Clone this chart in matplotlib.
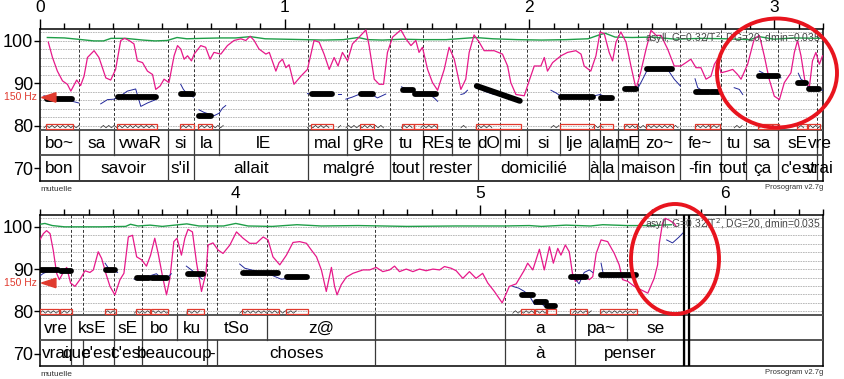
import matplotlib.pyplot as plt
from matplotlib.patches import Rectangle, Ellipse, Polygon
import numpy as np

plt.rcParams['font.family'] = ['Liberation Sans', 'DejaVu Sans']

# ---------------- painel de cima (0 - 3.2 s) ----------------
sil1 = ['bo~', 'sa', 'vwaR', 'si', 'la', 'lE', 'mal', 'gRe', 'tu', 'REs', 'te', 'dO',
        'mi', 'si', 'lje', 'a', 'la', 'mE', 'zo~', 'fe~', 'tu', 'sa', 'sE', 'vre']
sil1_lim = [0, 0.158, 0.301, 0.522, 0.628, 0.731, 1.095, 1.254, 1.43, 1.565, 1.684, 1.79,
            1.879, 1.99, 2.125, 2.243, 2.288, 2.362, 2.443, 2.615, 2.783, 2.885, 3.016,
            3.175, 3.2]
pal1 = ['bon', 'savoir', "s'il", 'allait', 'malgré', 'tout', 'rester', 'domicilié', 'à',
        'la', 'maison', '-fin', 'tout', 'ça', "c'est", 'vrai']
pal1_lim = [0, 0.158, 0.522, 0.628, 1.095, 1.43, 1.565, 1.79, 2.243, 2.288, 2.362, 2.615,
            2.783, 2.885, 3.016, 3.175, 3.2]

int1_t = [0.034, 0.051, 0.071, 0.092, 0.112, 0.126, 0.137, 0.15, 0.166, 0.18, 0.194, 0.221,
          0.241, 0.269, 0.289, 0.309, 0.33, 0.346, 0.364, 0.384, 0.398, 0.419, 0.439, 0.46,
          0.473, 0.491, 0.507, 0.527, 0.548, 0.562, 0.575, 0.589, 0.603, 0.619, 0.63, 0.657,
          0.677, 0.695, 0.711, 0.739, 0.766, 0.793, 0.821, 0.841, 0.859, 0.875, 0.895, 0.923,
          0.937, 0.964, 0.977, 0.991, 1.005, 1.018, 1.038, 1.066, 1.093, 1.12, 1.141, 1.161,
          1.182, 1.202, 1.218, 1.236, 1.257, 1.277, 1.311, 1.332, 1.345, 1.366, 1.386, 1.404,
          1.42, 1.441, 1.475, 1.495, 1.516, 1.536, 1.549, 1.563, 1.584, 1.604, 1.625, 1.652,
          1.672, 1.693, 1.72, 1.74, 1.754, 1.774, 1.795, 1.815, 1.856, 1.89, 1.911, 1.924,
          1.945, 1.979, 1.999, 2.02, 2.047, 2.061, 2.074, 2.095, 2.129, 2.156, 2.19, 2.211,
          2.224, 2.251, 2.272, 2.289, 2.306, 2.326, 2.34, 2.354, 2.374, 2.395, 2.415, 2.436,
          2.456, 2.477, 2.497, 2.518, 2.538, 2.565, 2.592, 2.619, 2.64, 2.66, 2.681, 2.701,
          2.722, 2.742, 2.756, 2.769, 2.783, 2.81, 2.831, 2.851, 2.865, 2.892, 2.919, 2.94,
          2.96, 2.98, 3.001, 3.022, 3.042, 3.069, 3.083, 3.096, 3.11, 3.126, 3.144, 3.157,
          3.171, 3.185, 3.198]
int1_st = [99.7, 96.1, 92.9, 90.6, 89.8, 88.2, 89.4, 90.8, 89.5, 91.7, 96.1, 97.7,
           96.1, 91.3, 90.8, 93.3, 100.1, 100.6, 100.1, 99.3, 95.3, 94.9, 92.9, 92.1,
           88.6, 89.4, 91.0, 90.2, 96.5, 98.9, 98.1, 95.7, 96.5, 95.3, 96.9, 98.9,
           98.5, 95.7, 97.3, 96.9, 98.9, 100.1, 100.5, 100.1, 101.1, 100.1, 98.1, 96.9,
           97.3, 92.9, 94.9, 95.7, 93.7, 94.4, 89.8, 91.7, 93.3, 100.1, 99.7, 96.9,
           93.3, 96.1, 94.1, 97.3, 95.3, 99.3, 101.3, 102.6, 98.9, 91.0, 89.8, 89.8,
           97.3, 100.9, 102.6, 100.5, 98.9, 100.1, 97.3, 98.5, 93.3, 90.2, 88.4, 93.3,
           98.5, 95.7, 88.6, 91.0, 97.3, 101.4, 99.7, 97.7, 97.7, 96.9, 94.1, 90.2,
           87.4, 87.1, 90.6, 94.1, 94.1, 96.1, 92.9, 94.9, 96.5, 97.3, 97.7, 96.9,
           94.1, 92.9, 96.5, 102.1, 101.7, 97.3, 95.3, 99.7, 102.1, 99.7, 94.1, 88.7,
           92.9, 98.1, 102.5, 101.3, 101.3, 98.1, 94.1, 94.1, 94.9, 95.7, 93.7, 93.7,
           91.0, 91.7, 94.5, 95.7, 92.5, 92.9, 93.3, 92.1, 91.0, 94.5, 100.5, 101.3,
           96.5, 91.0, 87.0, 86.2, 90.2, 92.5, 97.3, 100.1, 96.5, 90.6, 89.0, 95.3,
           97.3, 94.5, 96.5]

verde1_t = [0.03, 0.1, 0.17, 0.22, 0.26, 0.29, 0.35, 0.42, 0.47, 0.52, 0.56, 0.6, 0.66,
            0.74, 0.8, 0.86, 0.92, 1.0, 1.08, 1.16, 1.24, 1.3, 1.34, 1.4, 1.48, 1.56, 1.66,
            1.78, 1.85, 1.95, 2.05, 2.15, 2.24, 2.29, 2.31, 2.35, 2.42, 2.5, 2.6, 2.7, 2.8,
            2.9, 2.94, 3.0, 3.08, 3.198]
verde1_st = [100.8, 100.7, 100.3, 100.0, 100.0, 100.6, 100.6, 100.2, 100.0, 100.1, 100.8,
             100.5, 100.6, 100.7, 100.7, 101.0, 100.5, 100.4, 100.3, 100.2, 100.3, 100.8,
             100.3, 100.2, 100.4, 100.3, 100.3, 100.8, 100.5, 100.3, 100.2, 100.3, 100.5,
             101.5, 101.8, 100.9, 100.8, 100.9, 100.4, 100.6, 100.5, 100.3, 101.0, 100.4,
             100.7, 100.6]

azul1 = [
    ([0.016, 0.044, 0.112, 0.132, 0.159], [87.1, 86.8, 86.4, 85.8, 85.4]),
    ([0.248, 0.276, 0.303, 0.33, 0.357, 0.391, 0.412, 0.439, 0.473],
     [85.2, 86.2, 86.3, 87.1, 88.2, 88.7, 84.6, 85.4, 86.2]),
    ([0.575, 0.586, 0.603, 0.627], [89.8, 88.6, 87.4, 86.8]),
    ([0.65, 0.67, 0.711, 0.732, 0.746, 0.759], [83.8, 83.2, 82.4, 83.0, 84.2, 84.8]),
    ([1.093, 1.148, 1.188], [87.6, 87.5, 87.5]),
    ([1.218, 1.23], [87.5, 87.5]),
    ([1.25, 1.277, 1.311, 1.345, 1.379, 1.413], [86.3, 86.8, 87.6, 87.8, 86.6, 87.5]),
    ([1.477, 1.502, 1.529], [89.2, 88.6, 88.2]),
    ([1.556, 1.59, 1.611, 1.625], [87.8, 87.4, 86.6, 85.8]),
    ([1.72, 1.733, 1.747], [87.4, 87.6, 88.4]),
    ([1.781, 1.815, 1.856], [89.8, 88.2, 87.4]),
    ([2.088, 2.108, 2.129], [88.4, 87.8, 87.0]),
    ([2.258, 2.289, 2.306], [87.0, 87.4, 87.0]),
    ([2.388, 2.442, 2.463, 2.483, 2.524, 2.565, 2.592, 2.617],
     [89.0, 88.7, 91.0, 93.3, 93.7, 93.3, 91.0, 89.4]),
    ([2.677, 2.688, 2.715, 2.756, 2.783], [91.1, 89.0, 88.0, 87.8, 88.0]),
    ([2.837, 2.858, 2.872], [89.0, 88.6, 87.4]),
    ([2.94, 2.967, 3.008, 3.028], [92.9, 92.1, 91.7, 91.3]),
    ([3.099, 3.11, 3.13], [92.4, 91.0, 90.3]),
    ([3.137, 3.164, 3.198], [89.2, 88.7, 88.4]),
]
azul1_solto = []

# estilizacao: (t inicio, t fim, st inicio, st fim)
estil1 = [(0.027, 0.13, 86.35, 86.35), (0.318, 0.473, 86.8, 86.8), (0.575, 0.624, 87.5, 87.5),
          (0.649, 0.698, 82.4, 82.4), (1.111, 1.193, 87.5, 87.5), (1.311, 1.36, 87.5, 87.5),
          (1.483, 1.524, 88.5, 88.5), (1.532, 1.618, 87.6, 87.6), (1.785, 1.961, 89.4, 85.9),
          (2.129, 2.26, 86.8, 86.8), (2.292, 2.337, 86.6, 86.6), (2.39, 2.435, 88.7, 88.7),
          (2.48, 2.582, 93.4, 93.4), (2.681, 2.734, 88.1, 88.1), (2.742, 2.775, 88.0, 88.0),
          (2.938, 3.016, 91.8, 91.8), (3.098, 3.13, 90.2, 90.2), (3.143, 3.183, 88.7, 88.7)]

# ---------------- painel de baixo (3.2 - 6.4 s) ----------------
sil2 = ['vre', 'ksE', 'sE', 'bo', 'ku', 'tSo', 'z@', '', 'a', 'pa~', 'se', '', '']
sil2_lim = [3.2, 3.327, 3.502, 3.616, 3.759, 3.882, 4.127, 4.571, 5.102, 5.388, 5.6, 5.833,
            5.853, 6.4]
pal2 = ['vrai', 'que', "c'est", "c'est", 'beaucoup', '-', 'choses', '', 'à', 'penser', '', '']
pal2_lim = [3.2, 3.327, 3.376, 3.502, 3.616, 3.882, 3.922, 4.571, 5.102, 5.388, 5.833,
            5.853, 6.4]

int2_t = [3.2, 3.214, 3.227, 3.241, 3.254, 3.268, 3.279, 3.295, 3.309, 3.325, 3.343, 3.363,
          3.384, 3.404, 3.418, 3.438, 3.452, 3.469, 3.486, 3.506, 3.527, 3.543, 3.561, 3.578,
          3.595, 3.615, 3.635, 3.652, 3.669, 3.683, 3.701, 3.717, 3.731, 3.747, 3.76, 3.778,
          3.792, 3.805, 3.823, 3.84, 3.86, 3.878, 3.887, 3.907, 3.928, 3.948, 3.976, 4.003,
          4.03, 4.057, 4.084, 4.112, 4.132, 4.152, 4.18, 4.207, 4.234, 4.261, 4.289, 4.309,
          4.33, 4.35, 4.37, 4.391, 4.404, 4.414, 4.431, 4.452, 4.479, 4.52, 4.547, 4.574,
          4.601, 4.629, 4.649, 4.669, 4.697, 4.724, 4.751, 4.778, 4.806, 4.833, 4.853, 4.88,
          4.901, 4.928, 4.955, 4.982, 5.009, 5.03, 5.057, 5.089, 5.118, 5.146, 5.18, 5.193,
          5.214, 5.241, 5.261, 5.282, 5.298, 5.316, 5.329, 5.347, 5.363, 5.376, 5.388, 5.424,
          5.445, 5.459, 5.473, 5.493, 5.52, 5.547, 5.567, 5.581, 5.602, 5.629, 5.656, 5.684,
          5.71, 5.724, 5.731, 5.744, 5.755, 5.771, 5.792, 5.799]
int2_st = [97.0, 98.4, 99.1, 98.4, 94.5, 89.0, 87.5, 89.2, 90.4, 86.7, 85.9, 87.5,
           89.6, 89.2, 89.8, 94.1, 92.5, 89.0, 85.9, 83.9, 87.5, 89.0, 97.6, 98.0,
           92.9, 92.2, 90.7, 93.3, 97.3, 93.7, 88.2, 83.9, 87.8, 96.5, 97.3, 93.3,
           97.3, 99.4, 98.8, 91.4, 84.7, 89.0, 95.7, 96.2, 94.5, 93.7, 95.7, 98.8,
           97.3, 96.1, 96.1, 97.6, 96.9, 92.9, 91.0, 93.3, 96.3, 96.5, 96.1, 94.5,
           92.9, 89.8, 84.7, 90.4, 85.9, 83.9, 86.3, 88.1, 89.0, 89.8, 89.8, 90.4,
           89.4, 89.8, 90.7, 89.4, 90.0, 89.4, 90.0, 89.6, 90.0, 89.8, 90.6, 90.2,
           89.6, 87.8, 89.4, 87.8, 89.0, 86.7, 84.7, 82.0, 85.9, 86.5, 89.8, 91.4,
           89.8, 94.7, 89.8, 95.3, 91.4, 94.9, 93.3, 95.7, 94.1, 89.0, 87.1, 88.2,
           87.5, 88.2, 93.7, 96.9, 96.5, 93.7, 91.0, 87.5, 87.1, 85.9, 85.1, 84.3,
           87.8, 91.0, 96.1, 100.8, 102.0, 101.6, 100.8, 100.2]

verde2_t = [3.2, 3.22, 3.25, 3.3, 3.45, 3.55, 3.57, 3.6, 3.65, 3.7, 3.8, 3.85, 3.95, 4.0,
            4.05, 4.15, 4.25, 4.35, 4.5, 4.7, 4.9, 5.1, 5.2, 5.25, 5.35, 5.45, 5.5, 5.6,
            5.7, 5.78]
verde2_st = [100.6, 100.8, 100.3, 100.0, 100.0, 100.1, 100.6, 100.2, 100.4, 100.1, 100.7,
             100.2, 100.2, 100.8, 100.2, 100.1, 100.5, 100.2, 100.3, 100.1, 100.2, 100.2,
             100.3, 100.1, 100.4, 100.2, 100.5, 100.3, 100.3, 100.5]

azul2 = [
    ([3.2, 3.214, 3.241, 3.275, 3.288, 3.309, 3.325], [88.4, 89.0, 89.6, 89.4, 89.0, 89.4, 89.8]),
    ([3.466, 3.48, 3.504, 3.517], [91.4, 90.2, 89.6, 89.2]),
    ([3.585, 3.615, 3.649, 3.676, 3.696, 3.717, 3.737], [87.6, 87.8, 88.4, 88.9, 87.8, 87.8, 88.9]),
    ([3.798, 3.819, 3.846, 3.863], [90.7, 89.8, 88.4, 87.6]),
    ([4.016, 4.037, 4.091, 4.145, 4.186, 4.21, 4.254], [91.2, 90.2, 89.4, 88.6, 87.6, 87.8, 88.1]),
    ([5.132, 5.156, 5.18, 5.2, 5.221, 5.241, 5.261, 5.282], [85.9, 85.5, 84.7, 83.7, 81.6, 82.4, 81.2, 81.6]),
    ([5.376, 5.39, 5.403, 5.424, 5.445, 5.459], [88.2, 87.5, 86.5, 89.2, 89.8, 89.2]),
    ([5.493, 5.503, 5.527, 5.567, 5.622, 5.64], [91.4, 88.6, 88.1, 88.2, 88.4, 88.2]),
]
# trecho azul final, sem nucleo
azul2_solto = [([5.761, 5.785, 5.812, 5.832], [96.9, 96.2, 97.6, 98.8])]

estil2 = [(3.203, 3.273, 89.8, 89.8), (3.286, 3.327, 89.6, 89.6), (3.469, 3.506, 89.8, 89.8),
          (3.596, 3.645, 87.8, 87.8), (3.657, 3.718, 87.8, 87.8), (3.804, 3.865, 88.8, 88.8),
          (4.029, 4.171, 89.1, 89.1), (4.208, 4.29, 88.2, 88.2), (5.171, 5.216, 83.9, 83.9),
          (5.229, 5.269, 82.2, 82.2), (5.273, 5.306, 81.3, 81.3), (5.371, 5.433, 88.2, 88.2),
          (5.494, 5.637, 88.5, 88.5)]

YMIN, YMAX = 67.06, 102.8
Y_SIL, Y_PAL = 79.06, 73.2
HZ150 = 86.7


def zigzag(ax, a, b):
    xs = np.arange(a, b, 0.011)
    ys = 79.55 + 0.6 * (np.arange(len(xs)) % 2)
    ax.plot(xs, ys, color='#222222', lw=0.45, zorder=3)


def camada(ax, rotulos, lims, y0, y1):
    for k, txt in enumerate(rotulos):
        if txt:
            ax.text((lims[k] + lims[k + 1]) / 2, (y0 + y1) / 2 - 0.2, txt, ha='center',
                    va='center', fontsize=12.3, zorder=5)
    for x in lims[1:-1]:
        ax.plot([x, x], [y0, y1], color='#3a3a3a', lw=0.9, zorder=4)


def painel(ax, t0, sil, sil_lim, pal, pal_lim, it, ist, vt, vst, azul, solto, estil):
    t1 = t0 + 3.2
    ax.set_xlim(t0, t1)
    ax.set_ylim(YMIN, YMAX)
    for y in np.arange(80, 103, 2):
        ax.plot([t0, t1], [y, y], color='#b0b0b0', lw=0.6, ls=(0, (2, 1)), zorder=1)
    limites = sorted(set(sil_lim[1:-1]) | set(pal_lim[1:-1]))
    for x in limites:
        ax.plot([x, x], [Y_SIL, YMAX], color='#333333', lw=0.7, ls=(0, (3, 2)), zorder=2)
    ax.plot([t0, t1], [Y_SIL, Y_SIL], color='#555555', lw=1.4, zorder=4)
    ax.plot([t0, t1], [Y_PAL, Y_PAL], color='#555555', lw=1.4, zorder=4)
    camada(ax, sil, sil_lim, Y_SIL, Y_PAL)
    camada(ax, pal, pal_lim, Y_PAL, YMIN)

    ax.plot(vt, vst, color='#1f9e48', lw=1.0, zorder=3)
    ax.plot(it, ist, color='#e6198a', lw=0.9, zorder=3)
    for xs, ys in azul:
        ax.plot(xs, ys, color='#22289a', lw=0.7, zorder=4)
        zigzag(ax, xs[0], xs[-1])
    for xs, ys in solto:
        ax.plot(xs, ys, color='#22289a', lw=0.7, zorder=4)
    for a, b, ya, yb in estil:
        ax.plot([a, b], [ya, yb], color='black', lw=4.2, solid_capstyle='round', zorder=6)
        ax.add_patch(Rectangle((a - 0.004, 79.25), b - a + 0.008, 1.25, fill=False,
                               ec='#e03a2e', lw=0.9, zorder=5))

    # marca de 150 Hz
    ax.add_patch(Polygon([(t0 + 0.006, HZ150), (t0 + 0.065, HZ150 + 1.1),
                          (t0 + 0.065, HZ150 - 1.1)], closed=True, color='#e03a2e',
                         zorder=7, clip_on=False))
    ax.text(-0.004, HZ150, '150 Hz', transform=ax.get_yaxis_transform(), ha='right',
            va='center', fontsize=7.5, color='#e03a2e')
    ax.text(t1 - 0.01, 100.7, 'asyll, G=0.32/T$^2$, DG=20, dmin=0.035', ha='right',
            va='center', fontsize=7.5, color='#444444', zorder=8)
    ax.text(0, -0.03, 'mutuelle', transform=ax.transAxes, ha='left', va='top',
            fontsize=6, color='#333333')
    ax.text(1, -0.02, 'Prosogram v2.7g', transform=ax.transAxes, ha='right', va='top',
            fontsize=5.5, color='#333333')

    ax.xaxis.set_ticks_position('top')
    ax.set_xticks([t for t in range(int(np.ceil(t0)), int(t1) + 1)])
    ax.set_xticks(np.arange(t0, t1 + 0.01, 0.1), minor=True)
    ax.tick_params(axis='x', which='major', direction='out', length=7, width=1,
                   labelsize=12.5, pad=3)
    ax.tick_params(axis='x', which='minor', direction='out', length=4, width=1)
    ax.set_yticks([70, 80, 90, 100])
    ax.tick_params(axis='y', direction='out', length=4, width=1, labelsize=13, pad=1)
    for s in ax.spines.values():
        s.set_linewidth(1.1)


fig = plt.figure(figsize=(8.45, 3.79), dpi=100)
ax1 = fig.add_axes([40 / 845, 1 - 181 / 379, 783 / 845, 152 / 379])
ax2 = fig.add_axes([40 / 845, 1 - 366 / 379, 783 / 845, 151 / 379])

painel(ax1, 0.0, sil1, sil1_lim, pal1, pal1_lim, int1_t, int1_st, verde1_t, verde1_st,
       azul1, azul1_solto, estil1)
painel(ax2, 3.2, sil2, sil2_lim, pal2, pal2_lim, int2_t, int2_st, verde2_t, verde2_st,
       azul2, azul2_solto, estil2)

# fim do sinal: linha dupla
for x in [5.833, 5.853]:
    ax2.plot([x, x], [YMIN, YMAX], color='black', lw=1.6, zorder=6)

# circulos vermelhos de destaque (coordenadas em pixels da figura)
for cx, cy, w, h in [(777, 73, 120, 109), (675, 259, 88, 110)]:
    fig.add_artist(Ellipse((cx / 845, 1 - cy / 379), w / 845, h / 379,
                           transform=fig.transFigure, fill=False, ec='#e8141e', lw=2.8))

fig.savefig('out.png', dpi=100)
